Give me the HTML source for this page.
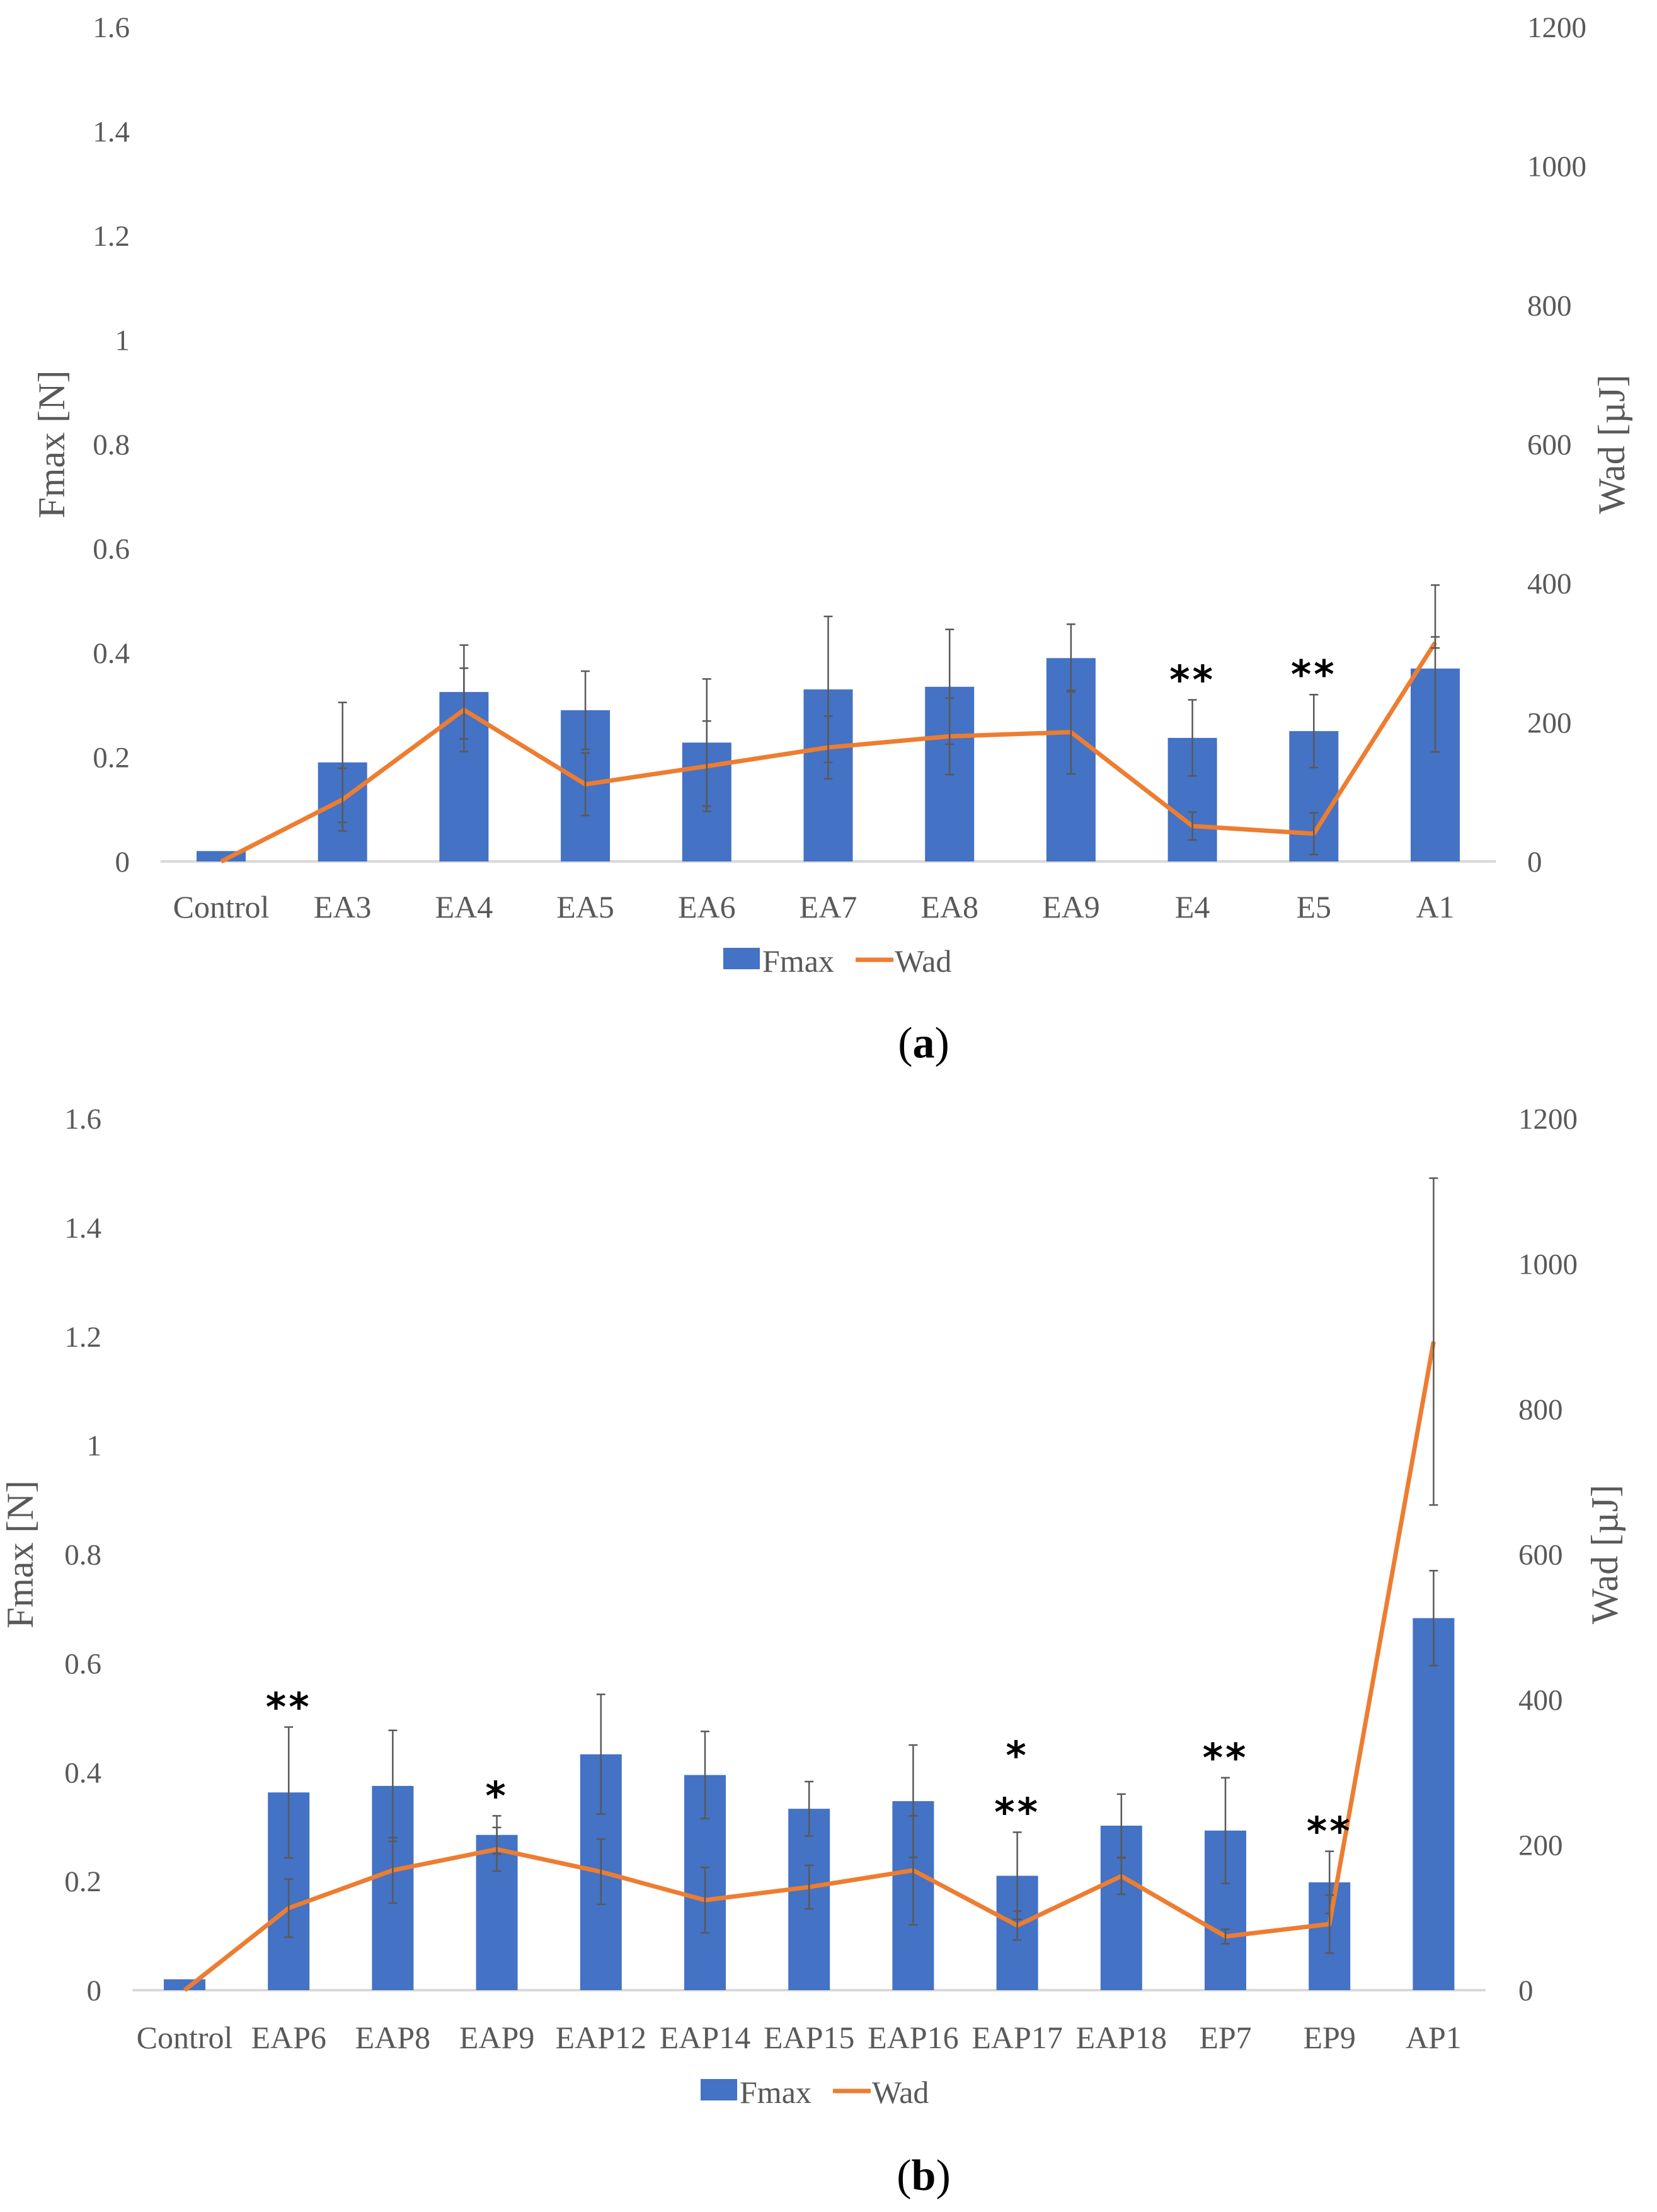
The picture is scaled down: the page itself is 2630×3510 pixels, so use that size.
<!DOCTYPE html>
<html><head><meta charset="utf-8">
<style>
html,body{margin:0;padding:0;background:#fff;}
svg{display:block;font-family:"Liberation Serif",serif;}
</style></head>
<body>
<svg id="fig" width="2630" height="3510" viewBox="0 0 2630 3510" xmlns="http://www.w3.org/2000/svg">
<rect width="2630" height="3510" fill="#fff"/>
</svg>
<script>
// ---- Chart (a) data ----
const catsA = ["Control","EA3","EA4","EA5","EA6","EA7","EA8","EA9","E4","E5","A1"];
const fmaxA = [0.02,0.19,0.325,0.29,0.228,0.33,0.335,0.39,0.237,0.25,0.37];
const fmaxErrA = [0.0,0.115,0.09,0.075,0.122,0.14,0.11,0.065,0.073,0.07,0.16];
const wadA = [0,89,218,111,137,164,180,186,51,40,315];
const wadErrA = [0,45,60,45,65,45,55,60,20,30,8];
const starsA = [["E4","**"],["E5","**"]];
// ---- Chart (b) data ----
const catsB = ["Control","EAP6","EAP8","EAP9","EAP12","EAP14","EAP15","EAP16","EAP17","EAP18","EP7","EP9","AP1"];
const fmaxB = [0.02,0.363,0.375,0.285,0.433,0.395,0.333,0.347,0.21,0.302,0.293,0.198,0.683];
const fmaxErrB = [0.0,0.12,0.102,0.035,0.11,0.08,0.05,0.103,0.08,0.058,0.097,0.057,0.087];
const wadB = [0,113,165,194,163,124,142,165,89,157,74,91,893];
const wadErrB = [0,40,45,30,45,45,30,75,20,25,10,40,225];
const starsB = [["EAP6","**",0],["EAP9","*",0],["EAP17","*",1],["EAP17","**",0],["EP7","**",0],["EP9","**",0]];
const leftTicks = ["0","0.2","0.4","0.6","0.8","1","1.2","1.4","1.6"];
const rightTicks = ["0","200","400","600","800","1000","1200"];

const NS = "http://www.w3.org/2000/svg";
const svg = document.getElementById('fig');
function mk(tag, attrs, parent, text){
  const e = document.createElementNS(NS, tag);
  for (const k in attrs) e.setAttribute(k, attrs[k]);
  if (text !== undefined) e.textContent = text;
  (parent||svg).appendChild(e);
  return e;
}

function chart(cfg){
  const g = mk('g', {});
  
  
  const n = cfg.cats.length;
  const x = i => cfg.x0 + i*cfg.step;
  const yL = v => cfg.base - v/1.6*(cfg.base-cfg.top);
  const yR = v => cfg.base - v/1200*(cfg.base-cfg.top);
  const bl = mk('line', {x1:cfg.x0-cfg.step/2, x2:x(n-1)+cfg.step/2, y1:cfg.base, y2:cfg.base, stroke:'#d9d9d9','stroke-width':4}, g);
  
  
  leftTicks.forEach(t => {
    const e = mk('text', {x:cfg.lx, y:yL(parseFloat(t))+16, 'text-anchor':'end','font-size':47, fill:'#595959'}, g, t);
    
    
  });
  rightTicks.forEach(t => {
    const e = mk('text', {x:cfg.rx, y:yR(parseFloat(t))+16, 'text-anchor':'start','font-size':47, fill:'#595959'}, g, t);
    
    
  });
  const cy = (cfg.base+cfg.top)/2;
  const lt = mk('text', {x:cfg.ltx, y:cy, transform:`rotate(-90 ${cfg.ltx} ${cy})`, 'text-anchor':'middle','font-size':60, fill:'#595959'}, g, 'Fmax [N]');
  
  
  const rt = mk('text', {x:cfg.rtx, y:cy, transform:`rotate(-90 ${cfg.rtx} ${cy})`, 'text-anchor':'middle','font-size':60, fill:'#595959'}, g, 'Wad [µJ]');
  
  
  cfg.cats.forEach((c,i) => {
    const top = yL(cfg.fmax[i]);
    const r = mk('rect', {x:x(i)-cfg.bw/2, y:top, width:cfg.bw, height:cfg.base-top, fill:'#4472c4'}, g);
    
    
    const lab = mk('text', {x:x(i), y:cfg.catY, 'text-anchor':'middle','font-size':cfg.catFs, fill:'#595959'}, g, c);
    
    
  });
  cfg.cats.forEach((c,i) => {
    const e = cfg.ferr[i]; if (!e) return;
    const y1 = yL(cfg.fmax[i]+e), y2 = yL(cfg.fmax[i]-e);
    const eb = mk('path', {d:`M${x(i)} ${y1}V${y2}M${x(i)-7} ${y1}H${x(i)+7}M${x(i)-7} ${y2}H${x(i)+7}`, stroke:'#595959','stroke-width':2.5, fill:'none'}, g);
    
    
  });
  const pts = cfg.wad.map((v,i) => `${x(i)},${yR(v)}`).join(' ');
  const pl = mk('polyline', {points:pts, fill:'none', stroke:'#ed7d31','stroke-width':7,'stroke-linejoin':'round'}, g);
  
  
  cfg.cats.forEach((c,i) => {
    const e = cfg.werr[i]; if (!e) return;
    const y1 = yR(cfg.wad[i]+e), y2 = yR(Math.max(0,cfg.wad[i]-e));
    const eb = mk('path', {d:`M${x(i)} ${y1}V${y2}M${x(i)-7} ${y1}H${x(i)+7}M${x(i)-7} ${y2}H${x(i)+7}`, stroke:'#595959','stroke-width':2.5, fill:'none'}, g);
    
    
  });
  cfg.stars.forEach(s => {
    const i = cfg.cats.indexOf(s[0]);
    const e = cfg.ferr[i];
    const yy = yL(cfg.fmax[i]+e) - 40 - (s[2]||0)*90;
    const st = mk('text', {x:x(i), y:yy+30, 'text-anchor':'middle','font-size':62,'font-weight':'bold','font-family':'"DejaVu Sans",sans-serif', fill:'#000','letter-spacing':'4'}, g, s[1]);
    
    
  });
  const lg = mk('g', {}, g);
  
  
  const lx = cfg.legX;
  const sw = mk('rect', {x:lx, y:cfg.legY-22, width:58, height:34, fill:'#4472c4'}, lg);
  
  
  const t1 = mk('text', {x:lx+62, y:cfg.legY+16, 'font-size':50, fill:'#595959'}, lg, 'Fmax');
  
  
  const ln = mk('line', {x1:lx+210, x2:lx+270, y1:cfg.legY-3, y2:cfg.legY-3, stroke:'#ed7d31','stroke-width':7}, lg);
  
  
  const t2 = mk('text', {x:lx+272, y:cfg.legY+16, 'font-size':50, fill:'#595959'}, lg, 'Wad');
  
  
  const pt = mk('text', {x:1466, y:cfg.panelY+22, 'text-anchor':'middle','font-size':70, fill:'#000'}, g);
  
  
  mk('tspan', {}, pt, '(');
  mk('tspan', {'font-weight':'bold'}, pt, cfg.panel);
  mk('tspan', {}, pt, ')');
}

chart({name:'chart-a', cats:catsA, fmax:fmaxA, ferr:fmaxErrA, wad:wadA, werr:wadErrA, stars:starsA,
  x0:351, step:192.7, bw:78, base:1367, top:43, lx:206, rx:2424, ltx:102, rtx:2578,
  catY:1456, catFs:50, legX:1148, legY:1526, panelY:1656, panel:'a'});
chart({name:'chart-b', cats:catsB, fmax:fmaxB, ferr:fmaxErrB, wad:wadB, werr:wadErrB, stars:starsB,
  x0:293, step:165.2, bw:66, base:3158, top:1775, lx:161, rx:2410, ltx:52, rtx:2567,
  catY:3250, catFs:50, legX:1112, legY:3321, panelY:3453, panel:'b'});
</script>
</body></html>
